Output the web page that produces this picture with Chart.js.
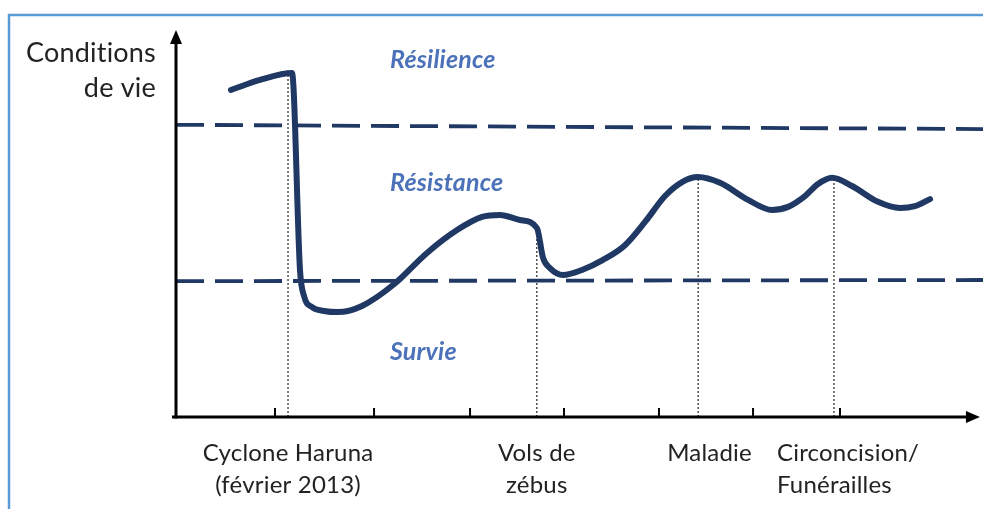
<!DOCTYPE html>
<html>
<head>
<meta charset="utf-8">
<script src="https://cdn.jsdelivr.net/npm/chart.js@4.4.1/dist/chart.umd.min.js"></script>
<style>
html,body{margin:0;padding:0;background:#fff;}
#wrap{position:relative;width:983px;height:509px;}
</style>
</head>
<body>
<div id="wrap"><canvas id="c" width="983" height="509"></canvas></div>
<script>
// ---- data (time in arbitrary units, "conditions de vie" 0-10) ----
const curveX = [0.579, 0.885, 1.222, 1.306, 1.348, 1.432, 1.559, 1.706, 1.959, 2.286, 2.644, 2.960, 3.223, 3.413, 3.623, 3.802, 3.866, 3.939, 4.076, 4.276, 4.498, 4.729, 4.940, 5.151, 5.330, 5.498, 5.730, 6.025, 6.278, 6.446, 6.625, 6.762, 6.910, 7.120, 7.394, 7.626, 7.784, 7.942];
const curveY = [8.45, 8.71, 8.89, 3.80, 3.13, 2.84, 2.74, 2.71, 2.87, 3.41, 4.24, 4.83, 5.17, 5.22, 5.09, 4.88, 4.11, 3.85, 3.67, 3.80, 4.06, 4.44, 5.04, 5.71, 6.07, 6.20, 6.05, 5.61, 5.35, 5.43, 5.71, 6.02, 6.18, 5.97, 5.56, 5.40, 5.45, 5.63];
const thresholdX = [0, 8.5];
const resilienceThreshold = [7.55, 7.44];
const survivalThreshold = [3.51, 3.54];
const xTicks = [1.043, 2.086, 3.097, 4.087, 5.087, 6.078, 6.994];
const eventNames = [["Cyclone Haruna", "(février 2013)"], ["Vols de", "zébus"], ["Maladie"], ["Circoncision/", "Funérailles"]];
const eventX = [1.18, 3.80, 5.50, 6.93];
const eventTop = [8.86, 4.88, 6.20, 6.15];
const zoneNames = ["Résilience", "Résistance", "Survie"];
const zoneY = [9.22, 6.05, 1.68];
const yTitle = ["Conditions", "de vie"];

// ---- layout / style ----
const NAVY = "#1F3864";
const FONT = "Lato, 'Open Sans', sans-serif";
const eventLabelX = [1.18, 3.80, 5.62, 6.33];
const eventLabelAlign = ["center", "center", "center", "left"];
const zoneLabelX = 2.254;

const datasets = [];
datasets.push({
  data: curveX.map((x, i) => ({x, y: curveY[i]})),
  borderColor: NAVY, borderWidth: 6, pointRadius: 0,
  cubicInterpolationMode: "monotone", borderCapStyle: "round", borderJoinStyle: "round", fill: false
});
[resilienceThreshold, survivalThreshold].forEach(t => datasets.push({
  data: thresholdX.map((x, i) => ({x, y: t[i]})),
  borderColor: NAVY, borderWidth: 3.8, borderDash: [28, 11], pointRadius: 0, tension: 0, fill: false
}));
eventX.forEach((x, i) => datasets.push({
  data: [{x, y: 0}, {x, y: eventTop[i]}],
  borderColor: "#444", borderWidth: 1.4, borderDash: [2, 2], pointRadius: 0, tension: 0, fill: false
}));

const decor = {
  id: "decor",
  beforeDraw(chart) {
    const ctx = chart.ctx;
    ctx.save();
    ctx.strokeStyle = "#5B9BD5"; ctx.lineWidth = 2.5;
    ctx.beginPath(); ctx.moveTo(9, 520); ctx.lineTo(9, 15); ctx.lineTo(990, 15); ctx.stroke();
    ctx.restore();
  },
  afterDraw(chart) {
    const ctx = chart.ctx, xs = chart.scales.x, ys = chart.scales.y;
    const x0 = xs.getPixelForValue(0), y0 = ys.getPixelForValue(0);
    const yTop = ys.getPixelForValue(10), xTip = xs.getPixelForValue(8.468);
    ctx.save();
    ctx.strokeStyle = "#000"; ctx.fillStyle = "#000"; ctx.lineWidth = 3;
    ctx.beginPath(); ctx.moveTo(x0, y0 + 1.5); ctx.lineTo(x0, yTop + 10); ctx.stroke();
    ctx.beginPath(); ctx.moveTo(x0, yTop); ctx.lineTo(x0 - 6, yTop + 14); ctx.lineTo(x0 + 6, yTop + 14); ctx.closePath(); ctx.fill();
    ctx.beginPath(); ctx.moveTo(x0 - 4, y0); ctx.lineTo(xTip - 10, y0); ctx.stroke();
    ctx.beginPath(); ctx.moveTo(xTip, y0); ctx.lineTo(xTip - 14, y0 - 6); ctx.lineTo(xTip - 14, y0 + 6); ctx.closePath(); ctx.fill();
    ctx.lineWidth = 2;
    xTicks.forEach(v => { const px = xs.getPixelForValue(v); ctx.beginPath(); ctx.moveTo(px, y0); ctx.lineTo(px, y0 - 9); ctx.stroke(); });
    // y title
    ctx.letterSpacing = "0.2px";
    ctx.fillStyle = "#222"; ctx.textAlign = "right"; ctx.textBaseline = "middle";
    ctx.font = "27px " + FONT;
    ctx.fillText(yTitle[0], 156, 53); ctx.fillText(yTitle[1], 156, 88);
    // event labels
    ctx.font = "24px " + FONT;
    eventNames.forEach((lines, i) => {
      ctx.textAlign = eventLabelAlign[i];
      const px = xs.getPixelForValue(eventLabelX[i]);
      lines.forEach((t, j) => ctx.fillText(t, px, 453 + j * 32));
    });
    // zone labels
    ctx.fillStyle = "#4C72B9"; ctx.textAlign = "left";
    ctx.font = "italic bold 25px " + FONT;
    zoneNames.forEach((t, i) => ctx.fillText(t, xs.getPixelForValue(zoneLabelX), ys.getPixelForValue(zoneY[i])));
    ctx.restore();
  }
};

new Chart(document.getElementById("c"), {
  type: "line",
  data: {datasets},
  options: {
    responsive: false, animation: false, events: [],
    layout: {padding: {left: 176, right: 0, top: 30, bottom: 92}},
    plugins: {legend: {display: false}, tooltip: {enabled: false}},
    scales: {
      x: {type: "linear", min: 0, max: 8.5, display: false},
      y: {type: "linear", min: 0, max: 10, display: false}
    }
  },
  plugins: [decor]
});
</script>
</body>
</html>
